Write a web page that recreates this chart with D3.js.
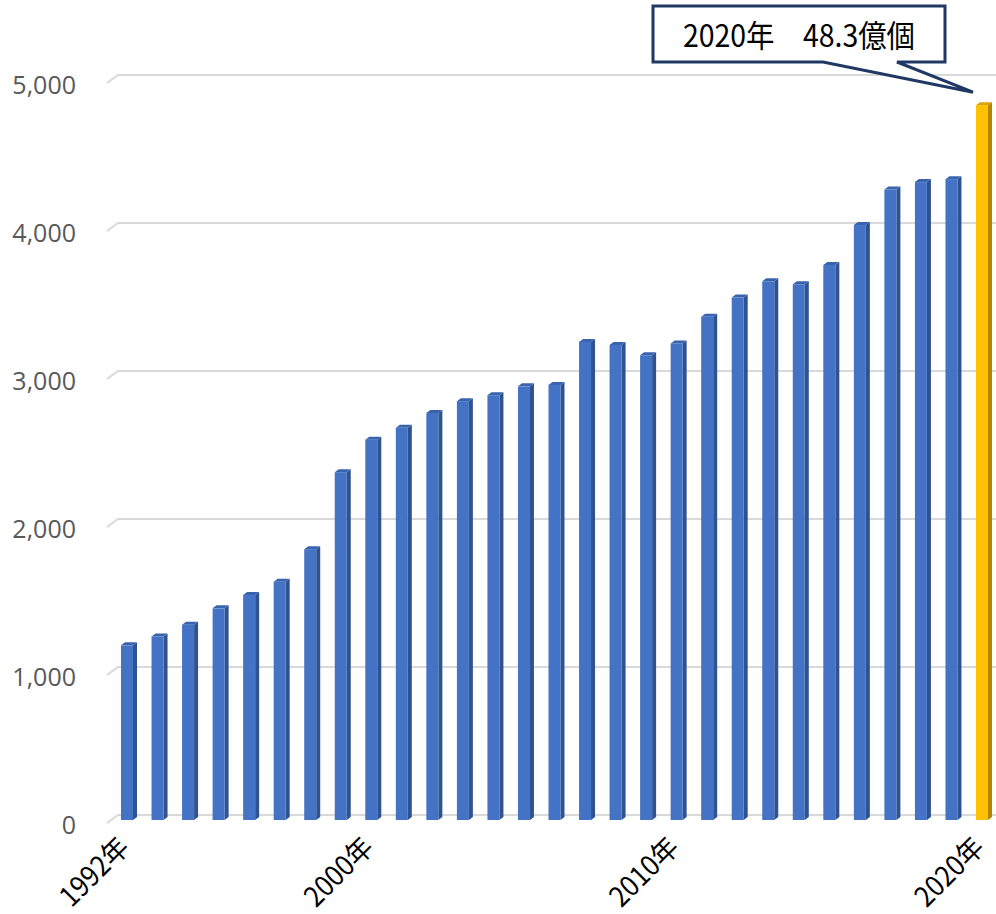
<!DOCTYPE html>
<html>
<head>
<meta charset="utf-8">
<script src="https://cdn.jsdelivr.net/npm/d3@7"></script>
<style>
    body { margin: 0; background: #fff; }
    svg { display: block; }
    .ylab { font-family: "Open Sans", "Noto Sans", sans-serif; font-size: 25px; fill: #595959; }
    .xlab { font-family: "Noto Sans CJK JP", sans-serif; font-size: 28px; fill: #000; }
    .callout text { font-family: "Noto Sans CJK JP", sans-serif; font-size: 31px; fill: #000; }
</style>
</head>
<body>
<div id="chart"></div>
<script>

// data: years and values
var years = d3.range(1992, 2021).map(String);
var values = [1180, 1240, 1320, 1430, 1520, 1610, 1830, 2350, 2570, 2650,
    2750, 2830, 2870, 2930, 2940, 3230, 3210, 3140, 3220, 3400,
    3530, 3640, 3620, 3750, 4020, 4260, 4310, 4330, 4830];
var yticks = [0, 1000, 2000, 3000, 4000, 5000];
var xticks = ["1992", "2000", "2010", "2020"];
var highlight = "2020";
var calloutText = "2020年　48.3億個";

// settings
var conf = {
    w: 996, h: 914,
    depth: [4, 3], // bar 3d offset (x, up)
    front: 5, // offset of bars from back wall
    blue: ["#4472c4", "#2f5290", "#3a63ae"], // front, side, top
    gold: ["#ffc000", "#b38600", "#d9a300"],
    grid: "#d9d9d9"
};

var data = years.map(function (y, i) {
    return {name: y, value: values[i]};
});

var svg = d3.select("#chart").append("svg")
        .attr("width", conf.w).attr("height", conf.h);

// scales
var xscale = d3.scaleBand().domain(years).range([121, 988])
        .paddingInner(0.607).paddingOuter(0);
var yscale = d3.scaleLinear().domain([0, 5000]).range([815, 75]);

// gridlines on back wall, with floor/side diagonal at left
var grid = svg.append("g").attr("class", "grid");
grid.selectAll("path").data(yticks).enter().append("path")
        .attr("fill", "none").attr("stroke", conf.grid).attr("stroke-width", 2)
        .attr("d", function (d) {
            var y = yscale(d);
            return "M107," + (y + 8) + "L118," + y + "H996";
        });

// y labels
svg.selectAll(".ylab").data(yticks).enter().append("text")
        .attr("class", "ylab")
        .attr("x", 76).attr("y", function (d) {
            return yscale(d) + 10;
        })
        .attr("dy", "0.35em").attr("text-anchor", "end")
        .text(d3.format(","));

// bars (front, side, top)
var bw = xscale.bandwidth();
var dx = conf.depth[0], dy = conf.depth[1];
var bars = svg.selectAll(".bar").data(data).enter().append("g").attr("class", "bar");
var col = function (d, k) {
    return d.name === highlight ? conf.gold[k] : conf.blue[k];
};
bars.append("path")
        .attr("fill", function (d) { return col(d, 1); })
        .attr("d", function (d) {
            var x = xscale(d.name) + bw, y0 = yscale(0) + conf.front,
                    y1 = yscale(d.value) + conf.front;
            return "M" + x + "," + y1 + "l" + dx + "," + (-dy) + "V" + (y0 - dy)
                    + "l" + (-dx) + "," + dy + "Z";
        });
bars.append("path")
        .attr("fill", function (d) { return col(d, 2); })
        .attr("d", function (d) {
            var x = xscale(d.name), y1 = yscale(d.value) + conf.front;
            return "M" + x + "," + y1 + "l" + dx + "," + (-dy) + "h" + bw
                    + "l" + (-dx) + "," + dy + "Z";
        });
bars.append("rect")
        .attr("fill", function (d) { return col(d, 0); })
        .attr("x", function (d) { return xscale(d.name); })
        .attr("width", bw)
        .attr("y", function (d) { return yscale(d.value) + conf.front; })
        .attr("height", function (d) { return yscale(0) - yscale(d.value); });

// x labels, rotated (narrow glyphs like the original)
svg.selectAll(".xlab").data(xticks).enter().append("text")
        .attr("class", "xlab")
        .attr("text-anchor", "end")
        .attr("textLength", 84).attr("lengthAdjust", "spacingAndGlyphs")
        .attr("transform", function (d) {
            var x = xscale(d) + bw / 2 + 4;
            return "translate(" + x + ",849) rotate(-45)";
        })
        .text(function (d) { return d + "年"; });

// callout for last year
var last = data[data.length - 1];
var tipx = xscale(last.name) - 3, tipy = yscale(last.value) - 8;
var callout = svg.append("g").attr("class", "callout");
callout.append("path")
        .attr("fill", "#fff").attr("stroke", "#203864").attr("stroke-width", 3)
        .attr("stroke-linejoin", "miter")
        .attr("d", "M653,6H945V62H897L" + tipx + "," + tipy + "L823,62H653Z");
callout.append("text")
        .attr("x", 683).attr("y", 47)
        .attr("textLength", 232).attr("lengthAdjust", "spacingAndGlyphs")
        .text(calloutText);

</script>
</body>
</html>
